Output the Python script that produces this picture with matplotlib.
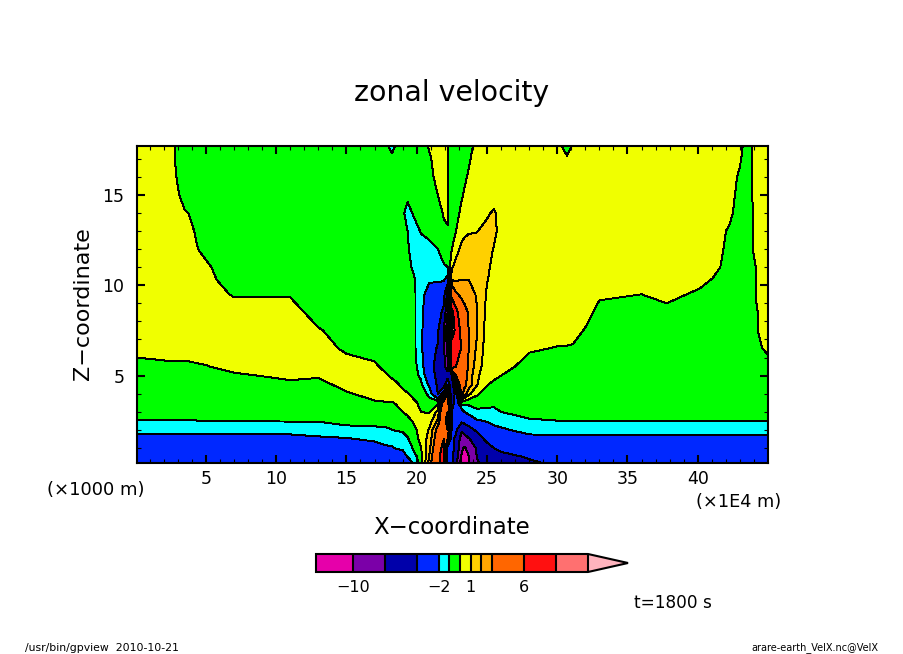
import numpy as np
import matplotlib
matplotlib.use("Agg")
import matplotlib.pyplot as plt

# x in 1E4 m, z in 1000 m
x_km = [0.1, 2.7, 3.5, 5, 7, 11, 13, 15, 17, 17.95, 18.25, 18.5, 19, 19.35, 19.7, 20.3, 20.9, 21.5,
        21.93, 22.2, 22.5, 22.8, 23.2, 23.4, 23.7, 24.3, 25, 25.5, 26, 28, 30.25, 30.7, 31.1, 32, 33,
        36, 37.8, 40.15, 41.05, 42.3, 43, 43.4, 43.85, 44.2, 45]
z_km = [17.7, 17.1, 16, 15, 14, 13, 12, 11, 10.3, 9.5, 8.5, 7.5, 6.5, 5.5, 5, 4.5, 4, 3.5, 3, 2.5, 2, 1.5, 1, .5, .17]

# one list per x column, from the top of the domain down
velx = [
    [.5,.5,.5,.5,.5,.5,.5,.5,.5,.5,.5,.5,.5,-.5,-.5,-.5,-.5,-.5,-.5,-1.05,-1.6,-2.5,-3,-3,-3],
    [.1,.1,.2,.5,.5,.5,.5,.5,.5,.5,.5,.5,.5,-.2,-.5,-.5,-.5,-.5,-.5,-1.05,-1.6,-2.5,-3,-3,-3],
    [-.9,-.9,-.6,-.5,.1,.4,.5,.5,.5,.5,.5,.5,.5,-.25,-.5,-.5,-.5,-.5,-.5,-1.05,-1.6,-2.5,-3,-3,-3],
    [-.5,-.5,-.5,-.5,-.5,-.5,-.3,.2,.5,.5,.5,.5,.5,-.05,-.5,-.5,-.5,-.5,-.5,-1,-1.6,-2.5,-3,-3,-3],
    [-.5,-.5,-.5,-.5,-.5,-.5,-.5,-.8,-.8,-.1,.5,.5,.5,.3,-.15,-.5,-.5,-.5,-.5,-.98,-1.6,-2.5,-3,-3,-3],
    [-.5,-.5,-.5,-.5,-.5,-.5,-.5,-.5,-.5,-.1,.5,.5,.5,.5,.2,-.2,-.5,-.5,-.5,-.95,-1.6,-2.4,-3,-3,-3],
    [-.5,-.5,-.5,-.5,-.5,-.5,-.5,-.5,-.5,-.5,-.5,.1,.5,.5,.1,-.3,-.5,-.5,-.5,-.95,-1.5,-2.2,-3,-3,-3],
    [-.5,-.5,-.5,-.5,-.5,-.5,-.5,-.5,-.5,-.5,-.5,-.5,-.2,.5,.5,.3,-.1,-.5,-.5,-.8,-1.2,-2.1,-3,-3,-3],
    [-.5,-.5,-.5,-.5,-.5,-.5,-.5,-.5,-.5,-.5,-.5,-.5,-.5,.2,.5,.5,.3,-.1,-.4,-.7,-1.2,-1.8,-2.5,-3,-3],
    [-.95,-.6,-.5,-.5,-.5,-.5,-.5,-.5,-.5,-.5,-.5,-.5,-.5,-.4,.05,.4,.3,-.03,-.3,-.7,-1.1,-1.7,-2.1,-2.8,-3],
    [-1.3,-.85,-.5,-.5,-.5,-.5,-.5,-.5,-.5,-.5,-.5,-.5,-.5,-.5,-.2,.4,.3,-.05,-.3,-.6,-1,-1.6,-2.1,-2.7,-3],
    [-.95,-.6,-.5,-.5,-.5,-.5,-.5,-.5,-.5,-.5,-.5,-.5,-.5,-.5,-.3,.2,.3,.05,-.3,-.6,-.95,-1.5,-1.95,-2.6,-2.9],
    [-.5,-.5,-.5,-.5,-.85,-.8,-.5,-.5,-.5,-.5,-.5,-.5,-.5,-.5,-.5,-.2,.25,.3,0,-.4,-.85,-1.45,-1.85,-2.5,-2.8],
    [-.5,-.5,-.5,-.8,-1.3,-1,-.8,-.6,-.5,-.5,-.5,-.5,-.5,-.5,-.5,-.4,.05,.3,.15,-.2,-.6,-1.1,-1.5,-2,-2.4],
    [-.5,-.5,-.5,-.5,-.98,-1.4,-1.5,-1.1,-.7,-.6,-.6,-.6,-.6,-.6,-.6,-.4,-.2,.25,.3,.03,-.3,-.6,-1,-1.6,-2.05],
    [-.5,-.5,-.5,-.5,-.7,-.95,-1.3,-1.5,-1.6,-1.7,-1.7,-1.7,-1.7,-1.4,-1.15,-.8,-.4,-.2,0,.3,.3,.25,-.05,-.4,-.6],
    [.1,-.1,-.3,-.5,-.5,-.8,-1.2,-1.6,-1.9,-2.4,-3,-3.3,-3.5,-3.5,-3,-2.2,-1.3,-.6,-.1,.5,1.1,1.4,1.7,2.1,2.4],
    [.5,.4,.3,0,-.4,-.6,-1,-1.5,-1.9,-2.5,-3,-3.7,-4.1,-4.5,-4.5,-4.3,-4,-.2,1.3,2.2,3.5,4,4.5,5,5],
    [.6,.5,.4,.3,.1,-.2,-.6,-1.1,-1.9,-3,-4.6,-7,-6.5,-6,-6,-5,-1,4,5,5,5.5,6,7,8,8],
    [.1,.1,.1,.1,.1,-.05,-.6,-1,-2.5,-8,-10,-12,-11,-9,-5,-2,3,5,6,7,6,3,-3,-3,-3],
    [-.4,-.4,-.4,-.4,-.4,-.4,0,.9,1.9,5,10,10,8,8,-4,-6,-7,-5,-4,-4,-4,-3.8,-3.5,-3.5,-3.5],
    [-.4,-.4,-.4,-.4,-.3,0,.7,1.3,1.9,3.2,7,8.5,7.5,6,3,1,-2.5,-3,-3,-3.5,-3.6,-4.3,-4.5,-5.5,-6.8],
    [-.4,-.4,-.35,-.1,.2,.7,1.2,1.5,2,2.7,3.9,5,5.8,5.5,4.5,4,3.5,-.5,-2.7,-3.5,-6.5,-8.5,-9.6,-10.3,-10.8],
    [-.35,-.3,-.15,.1,.35,.8,1.35,1.6,2,2.55,3.4,4,4.4,4.2,3.5,3.3,2.5,-.6,-2,-3.3,-5.5,-8.5,-10.2,-11.5,-12],
    [-.3,-.15,.1,.3,.5,.9,1.5,1.7,2,2.4,2.9,3,3,2.8,2.6,2.6,1.3,-.8,-1.5,-3.2,-4.6,-7.3,-9.4,-10.1,-10.2],
    [.3,.4,.5,.6,.8,.98,1.25,1.4,1.6,1.9,2.05,2.05,1.8,1.5,1.2,1.05,.1,-.4,-1.3,-2.1,-3.7,-5,-6.5,-6.9,-7.3],
    [.5,.5,.5,.6,.9,1.2,1.3,1.15,1.05,.9,.7,.6,.5,.4,.3,.05,-.3,-.75,-1.2,-1.95,-2.4,-3.5,-4.8,-5.5,-6],
    [.5,.5,.5,.6,1.1,1.2,.95,.8,.7,.6,.5,.5,.5,.4,.2,-.2,-.4,-.8,-1.2,-1.6,-2.4,-3,-3.98,-4.5,-5],
    [.5,.5,.5,.55,.7,.7,.6,.5,.5,.5,.5,.5,.5,.5,0,-.3,-.5,-.6,-1,-1.5,-2.2,-2.8,-3.7,-4.4,-4.8],
    [.5,.5,.5,.5,.5,.5,.5,.5,.5,.5,.5,.5,.15,-.5,-.5,-.5,-.5,-.5,-.7,-1.1,-1.6,-2.4,-3.3,-3.9,-4.2],
    [.1,.4,.5,.5,.5,.5,.5,.5,.5,.5,.5,.5,-.1,-.5,-.5,-.5,-.5,-.5,-.7,-1,-1.6,-2.3,-3,-3.4,-3.7],
    [-.5,.05,.5,.5,.5,.5,.5,.5,.5,.5,.5,.5,-.1,-.5,-.5,-.5,-.5,-.5,-.7,-1,-1.6,-2.3,-3,-3.4,-3.7],
    [.1,.4,.5,.5,.5,.5,.5,.5,.5,.5,.5,.5,-.15,-.5,-.5,-.5,-.5,-.5,-.7,-1,-1.6,-2.3,-3,-3.3,-3.5],
    [.5,.5,.5,.5,.5,.5,.5,.5,.5,.5,.5,-.1,-.5,-.5,-.5,-.5,-.5,-.5,-.7,-1,-1.6,-2.3,-3,-3.2,-3.4],
    [.5,.5,.5,.5,.5,.5,.5,.5,.5,.2,-.4,-.5,-.5,-.5,-.5,-.5,-.5,-.5,-.7,-1,-1.6,-2.3,-3,-3.2,-3.4],
    [.5,.5,.5,.5,.5,.5,.5,.5,.5,0,-.5,-.5,-.5,-.5,-.5,-.5,-.5,-.5,-.7,-1,-1.6,-2.3,-3,-3.2,-3.4],
    [.5,.5,.5,.5,.5,.5,.5,.5,.5,.3,-.3,-.5,-.5,-.5,-.5,-.5,-.5,-.5,-.7,-1,-1.6,-2.3,-3,-3.2,-3.4],
    [.5,.5,.5,.5,.5,.5,.5,.5,.3,-.2,-.5,-.5,-.5,-.5,-.5,-.5,-.5,-.5,-.7,-1,-1.6,-2.3,-3,-3.2,-3.4],
    [.5,.5,.5,.5,.5,.5,.5,.4,-.05,-.5,-.5,-.5,-.5,-.5,-.5,-.5,-.5,-.5,-.7,-1,-1.6,-2.3,-3,-3.2,-3.4],
    [.5,.5,.5,.5,.2,-.15,-.3,-.5,-.5,-.5,-.5,-.5,-.5,-.5,-.5,-.5,-.5,-.5,-.7,-1,-1.6,-2.3,-3,-3.2,-3.4],
    [.5,.2,-.2,-.5,-.5,-.5,-.5,-.5,-.5,-.5,-.5,-.5,-.5,-.5,-.5,-.5,-.5,-.5,-.7,-1,-1.6,-2.3,-3,-3.2,-3.4],
    [-.5,-.5,-.5,-.5,-.5,-.5,-.5,-.5,-.5,-.5,-.5,-.5,-.5,-.5,-.5,-.5,-.5,-.5,-.7,-1,-1.6,-2.3,-3,-3.2,-3.4],
    [-.05,-.05,-.05,-.05,-.1,-.1,-.1,-.4,-.4,-.4,-.5,-.5,-.5,-.5,-.5,-.5,-.5,-.5,-.7,-1,-1.6,-2.3,-3,-3.2,-3.4],
    [.5,.5,.5,.5,.4,.4,.4,.1,.1,.1,-.05,-.05,-.3,-.5,-.5,-.5,-.5,-.5,-.7,-1,-1.6,-2.3,-3,-3.2,-3.4],
    [.5,.5,.5,.5,.5,.5,.5,.5,.5,.5,.5,.5,.3,-.6,-.5,-.5,-.5,-.5,-.7,-1,-1.6,-2.3,-3,-3,-3],
]

levels = [-13.5, -10, -7, -4, -2, -1, 0, 1, 2, 3, 6, 9, 12]
colors = ["#E600AA", "#7B00A8", "#0000AA", "#0028FF", "#00FFFF", "#00FF00", "#F0FF00",
          "#FFD000", "#FFA500", "#FF6600", "#FF1010", "#FF7070", "#FFB4BE"]
bar_ticks = [-10, -2, 1, 6]

W, H = 904, 654


def fx(px):
    return px / W


def fy(py):
    return 1 - py / H


fig = plt.figure(figsize=(W / 100, H / 100), dpi=100)
ax = fig.add_axes([fx(137), fy(463), fx(768) - fx(137), fy(146) - fy(463)])

field = np.array(velx).T[::-1]
z = z_km[::-1]
cf = ax.contourf(x_km, z, field, levels=levels, colors=colors, extend="max", antialiased=False)
ax.contour(x_km, z, field, levels=levels, colors="black", linewidths=0.7, linestyles="solid", antialiased=False)

ax.set_xlim(0.1, 45)
ax.set_ylim(0.17, 17.7)
ax.set_xticks(np.arange(5, 45, 5))
ax.set_xticks(np.arange(1, 45, 1), minor=True)
ax.set_yticks([5, 10, 15])
ax.set_yticks(np.arange(1, 18, 1), minor=True)
ax.tick_params(which="major", direction="in", length=6, width=1.5, top=True, right=True, labelsize=12.5)
ax.tick_params(which="minor", direction="in", length=3, width=0.8, top=True, right=True)
ax.tick_params(axis="x", which="major", pad=5)
ax.tick_params(axis="y", which="major", pad=9)
for spine in ax.spines.values():
    spine.set_linewidth(1.5)

fig.text(fx(452), fy(93), "zonal velocity", ha="center", va="center", fontsize=20.4)
fig.text(fx(452), fy(528), "X\u2212coordinate", ha="center", va="center", fontsize=16.5)
fig.text(fx(83), fy(304), "Z\u2212coordinate", ha="center", va="center", rotation=90, fontsize=16)
fig.text(fx(96), fy(490), "(\u00d71000 m)", ha="center", va="center", fontsize=13)
fig.text(fx(739), fy(502), "(\u00d71E4 m)", ha="center", va="center", fontsize=12.8)
fig.text(fx(673), fy(603), "t=1800 s", ha="center", va="center", fontsize=12.2)
fig.text(fx(25), fy(648), "/usr/bin/gpview  2010-10-21", ha="left", va="center", fontsize=7.8)
fig.text(fx(878), fy(648), "arare-earth_VelX.nc@VelX", ha="right", va="center", fontsize=7)

# the extension triangle is drawn inside the colorbar axes, so the axes run out to its tip
cax = fig.add_axes([fx(316), fy(572), fx(628) - fx(316), fy(554) - fy(572)])
cb = fig.colorbar(cf, cax=cax, orientation="horizontal", spacing="proportional", extend="max",
                  extendfrac=40 / 272, ticks=bar_ticks, drawedges=True)
cb.minorticks_off()
cb.outline.set_linewidth(1.5)
cb.dividers.set_linewidth(1.5)
cb.dividers.set_color("black")
cb.ax.tick_params(length=0, labelsize=11.5, pad=6)

fig.savefig("out.png", dpi=100)
